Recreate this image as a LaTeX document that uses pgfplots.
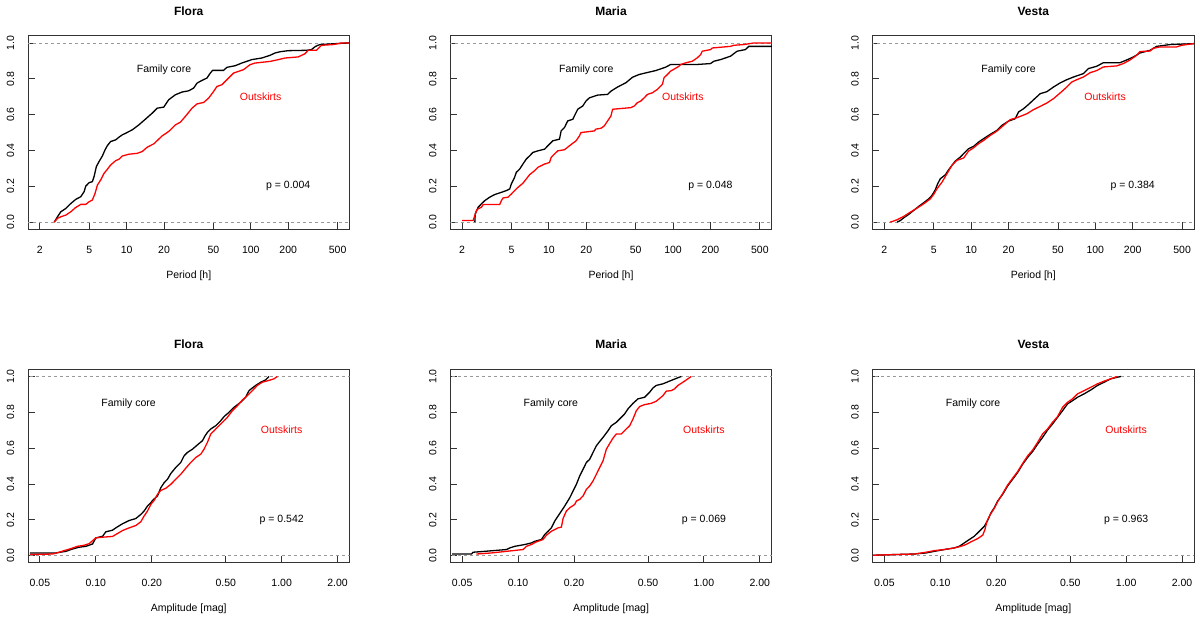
\documentclass[border=0pt]{standalone}
\usepackage{fontspec}
\setmainfont{Liberation Sans}
\usepackage{pgfplots}
\pgfplotsset{compat=1.18}

\newcommand{\fs}{\fontsize{10.5}{12.6}\selectfont}

\pgfplotsset{
  myaxis/.style={
    width=321.5pt, height=193.5pt, scale only axis,
    anchor=south west,
    ymin=-0.04, ymax=1.04,
    axis line style={black!80, line width=0.9pt},
    tick align=inside, major tick length=7pt,
    tick style={black!80, line width=0.9pt},
    minor tick length=0pt,
    xtick pos=bottom, ytick pos=left,
    ytick={0,0.2,0.4,0.6,0.8,1},
    yticklabels={0.0,0.2,0.4,0.6,0.8,1.0},
    yticklabel style={rotate=90, anchor=south, inner sep=13.5pt, font=\fs},
    xticklabel style={anchor=north, inner sep=16.5pt, font=\fs},
    title style={at={(axis description cs:0.5,1)}, anchor=south,
      yshift=14pt, inner sep=0pt, font=\bfseries\fontsize{12}{14}\selectfont},
    xlabel style={at={(axis description cs:0.5,0)}, anchor=north,
      yshift=-41pt, inner sep=0pt, font=\fs},
  },
  mytop/.style={xmin=1.6036, xmax=623.6,
    xtick={2,5,10,20,50,100,200,500},
    xticklabels={2,5,10,20,50,100,200,500},
    xlabel={Period [h]}},
  mybot/.style={xmin=0.04314, xmax=2.318,
    xtick={0.05,0.1,0.2,0.5,1,2},
    xticklabels={0.05,0.10,0.20,0.50,1.00,2.00},
    xlabel={Amplitude [mag]}},
  corel/.style={black, line width=1.3pt, no marks},
  outl/.style={red, line width=1.3pt, no marks},
  refl/.style={black!40, line width=0.6pt, dash pattern=on 3pt off 3pt, no marks},
}

\begin{document}
\begin{tikzpicture}
\useasboundingbox (0,0) rectangle (1200pt,618pt);

% ---------- Flora, period
\begin{semilogxaxis}[myaxis, mytop, at={(28pt,388.7pt)}, title={Flora}]
\addplot[refl] coordinates {(1,0) (1000,0)};
\addplot[refl] coordinates {(1,1) (1000,1)};
\addplot[corel] coordinates {(2.61,0) (2.77,0.030) (2.95,0.058) (3.23,0.076) (3.55,0.104) (3.89,0.127) (4.27,0.142) (4.54,0.170) (4.68,0.201) (4.98,0.220) (5.29,0.226) (5.46,0.254) (5.70,0.310) (5.99,0.338) (6.37,0.369) (6.69,0.403) (6.99,0.427) (7.43,0.450) (8.15,0.459) (8.66,0.474) (9.21,0.487) (9.80,0.496) (11.08,0.515) (12.54,0.543) (14.18,0.575) (16.04,0.608) (17.60,0.636) (19.90,0.642) (21.8,0.683) (24.7,0.711) (27.9,0.726) (31.6,0.733) (34.6,0.748) (36.9,0.776) (40.4,0.791) (44.3,0.804) (47.2,0.832) (49.2,0.847) (60.3,0.847) (64.2,0.864) (74.8,0.873) (84.6,0.888) (101.8,0.907) (122.5,0.916) (142.9,0.931) (156.7,0.944) (171.8,0.951) (200.5,0.957) (281,0.959) (308,0.963) (332,0.981) (360,0.991) (475,0.996) (608,1.0) (700,1.0)};
\addplot[outl] coordinates {(2.61,0) (2.77,0.021) (2.95,0.030) (3.23,0.039) (3.55,0.058) (3.89,0.082) (4.27,0.099) (4.68,0.099) (4.98,0.114) (5.29,0.123) (5.56,0.160) (5.81,0.207) (6.17,0.235) (6.57,0.272) (6.99,0.295) (7.43,0.319) (8.15,0.343) (8.66,0.351) (9.21,0.369) (10.42,0.379) (12.16,0.384) (13.34,0.394) (14.63,0.418) (16.54,0.437) (19.30,0.481) (21.8,0.506) (24.7,0.543) (27.1,0.558) (29.7,0.590) (33.6,0.636) (36.9,0.660) (41.7,0.668) (45.7,0.692) (50.1,0.729) (53.3,0.757) (58.5,0.767) (64.2,0.795) (72.6,0.832) (87.3,0.851) (98.7,0.879) (108.3,0.888) (122.5,0.892) (142.9,0.897) (166.7,0.907) (188.5,0.916) (241,0.922) (273,0.940) (290,0.959) (338,0.959) (371,0.987) (460,0.991) (540,1.0) (700,1.0)};
\node[font=\fs] at (axis cs:20,0.85) {Family core};
\node[font=\fs, text=red] at (axis cs:120,0.7) {Outskirts};
\node[font=\fs] at (axis cs:200,0.2) {p = 0.004};
\end{semilogxaxis}

% ---------- Maria, period
\begin{semilogxaxis}[myaxis, mytop, at={(450.25pt,388.7pt)}, title={Maria}]
\addplot[refl] coordinates {(1,0) (1000,0)};
\addplot[refl] coordinates {(1,1) (1000,1)};
\addplot[corel] coordinates {(2.53,0) (2.55,0.046) (2.69,0.083) (2.86,0.102) (3.04,0.120) (3.33,0.139) (3.66,0.154) (4.01,0.163) (4.54,0.176) (4.83,0.185) (4.98,0.213) (5.29,0.250) (5.46,0.278) (5.81,0.296) (6.17,0.324) (6.57,0.352) (6.99,0.370) (7.43,0.389) (8.15,0.398) (9.21,0.407) (9.80,0.426) (10.75,0.454) (12.16,0.463) (12.54,0.509) (13.34,0.528) (14.18,0.565) (15.56,0.574) (17.06,0.630) (18.71,0.648) (19.90,0.676) (21.2,0.694) (24.7,0.709) (29.7,0.713) (31.6,0.731) (35.7,0.754) (41.7,0.778) (47.2,0.809) (53.3,0.824) (60.3,0.833) (72.6,0.846) (87.3,0.865) (95.7,0.880) (156.7,0.880) (200.5,0.885) (213,0.898) (241,0.907) (290,0.926) (328,0.954) (383,0.963) (407,0.981) (700,0.981)};
\addplot[outl] coordinates {(2.00,0.009) (2.45,0.009) (2.53,0.037) (2.61,0.065) (2.69,0.074) (2.86,0.083) (2.95,0.098) (4.01,0.098) (4.14,0.120) (4.27,0.135) (4.68,0.139) (4.98,0.157) (5.29,0.176) (5.63,0.194) (6.17,0.217) (6.57,0.241) (6.99,0.265) (7.66,0.287) (8.15,0.306) (9.21,0.324) (10.11,0.333) (10.42,0.361) (11.08,0.380) (11.79,0.398) (13.34,0.404) (14.63,0.426) (16.54,0.454) (17.60,0.481) (18.14,0.500) (23.2,0.509) (23.9,0.519) (26.3,0.524) (27.9,0.537) (29.7,0.565) (31.6,0.593) (32.6,0.630) (45.7,0.639) (48.6,0.648) (51.7,0.667) (55.0,0.676) (58.5,0.694) (62.2,0.713) (68.2,0.722) (74.8,0.741) (82.1,0.769) (84.6,0.806) (90.0,0.824) (95.7,0.843) (111.7,0.870) (115.2,0.880) (126.3,0.889) (142.9,0.898) (156.7,0.917) (166.7,0.935) (171.9,0.954) (200.5,0.963) (206.8,0.972) (290,0.981) (308,0.987) (371,0.991) (395,0.994) (447,1.0) (700,1.0)};
\node[font=\fs] at (axis cs:20,0.85) {Family core};
\node[font=\fs, text=red] at (axis cs:120,0.7) {Outskirts};
\node[font=\fs] at (axis cs:200,0.2) {p = 0.048};
\end{semilogxaxis}

% ---------- Vesta, period
\begin{semilogxaxis}[myaxis, mytop, at={(872.5pt,388.7pt)}, title={Vesta}]
\addplot[refl] coordinates {(1,0) (1000,0)};
\addplot[refl] coordinates {(1,1) (1000,1)};
\addplot[corel] coordinates {(2.53,0) (2.69,0.009) (2.86,0.024) (3.14,0.043) (3.44,0.065) (3.78,0.088) (4.14,0.108) (4.55,0.130) (4.83,0.149) (5.14,0.181) (5.37,0.214) (5.64,0.242) (6.19,0.264) (6.58,0.292) (7.00,0.317) (7.45,0.341) (8.17,0.363) (8.69,0.382) (9.54,0.410) (10.46,0.423) (11.48,0.447) (12.59,0.466) (14.24,0.490) (16.11,0.512) (17.68,0.540) (20.0,0.564) (22.6,0.577) (24.1,0.615) (26.4,0.633) (29.0,0.657) (31.8,0.683) (36.0,0.717) (40.7,0.728) (46.0,0.754) (52.1,0.777) (58.9,0.795) (66.7,0.810) (80.2,0.829) (88.0,0.857) (102.7,0.870) (116.1,0.890) (158.2,0.890) (178.9,0.905) (202.5,0.922) (229,0.944) (276,0.959) (312,0.981) (399,0.991) (615,0.996) (700,1.0)};
\addplot[outl] coordinates {(2.23,0) (2.53,0.013) (2.86,0.032) (3.24,0.056) (3.66,0.078) (4.14,0.102) (4.69,0.130) (4.99,0.155) (5.30,0.186) (5.82,0.223) (6.38,0.270) (7.00,0.317) (7.68,0.345) (8.69,0.358) (9.54,0.397) (10.46,0.415) (11.48,0.438) (12.59,0.456) (14.24,0.484) (16.11,0.508) (18.23,0.540) (20.6,0.572) (23.3,0.583) (24.8,0.590) (28.1,0.605) (31.8,0.628) (36.0,0.646) (40.7,0.665) (46.0,0.689) (52.1,0.721) (58.9,0.754) (64.6,0.782) (70.9,0.795) (80.2,0.810) (90.8,0.834) (102.7,0.846) (116.1,0.866) (148.7,0.872) (168.3,0.885) (190.4,0.905) (215,0.931) (229,0.952) (276,0.955) (293,0.970) (332,0.978) (452,0.978) (496,0.987) (615,0.996) (700,1.0)};
\node[font=\fs] at (axis cs:20,0.85) {Family core};
\node[font=\fs, text=red] at (axis cs:120,0.7) {Outskirts};
\node[font=\fs] at (axis cs:200,0.2) {p = 0.384};
\end{semilogxaxis}

% ---------- Flora, amplitude
\begin{semilogxaxis}[myaxis, mybot, at={(28pt,55.2pt)}, title={Flora}]
\addplot[refl] coordinates {(0.01,0) (5,0)};
\addplot[refl] coordinates {(0.01,1) (5,1)};
\addplot[corel] coordinates {(0.0442,0.015) (0.0610,0.015) (0.0690,0.024) (0.0749,0.037) (0.0813,0.047) (0.0884,0.052) (0.0960,0.065) (0.100,0.099) (0.1087,0.108) (0.1132,0.133) (0.1230,0.142) (0.1281,0.155) (0.1392,0.178) (0.1511,0.196) (0.1641,0.207) (0.1746,0.230) (0.1819,0.249) (0.1897,0.277) (0.1977,0.295) (0.2018,0.308) (0.2146,0.333) (0.2237,0.379) (0.2331,0.407) (0.2429,0.426) (0.2531,0.458) (0.2692,0.492) (0.2865,0.520) (0.2985,0.557) (0.3111,0.576) (0.3310,0.594) (0.3595,0.626) (0.3746,0.641) (0.3873,0.669) (0.3986,0.688) (0.4154,0.707) (0.4418,0.725) (0.4699,0.753) (0.4898,0.776) (0.5209,0.800) (0.5544,0.828) (0.6020,0.856) (0.6404,0.884) (0.6676,0.921) (0.6955,0.936) (0.7250,0.950) (0.7714,0.968) (0.8206,0.981) (0.8551,1.0)};
\addplot[outl] coordinates {(0.0442,0.006) (0.0585,0.009) (0.0635,0.019) (0.0676,0.028) (0.0734,0.039) (0.0797,0.052) (0.0866,0.058) (0.0921,0.067) (0.100,0.099) (0.1087,0.103) (0.1230,0.107) (0.1281,0.118) (0.1392,0.140) (0.1511,0.155) (0.1641,0.168) (0.1746,0.189) (0.1819,0.221) (0.1897,0.249) (0.1977,0.286) (0.2060,0.308) (0.2146,0.342) (0.2237,0.364) (0.2379,0.376) (0.2531,0.398) (0.2692,0.426) (0.2865,0.454) (0.3047,0.488) (0.3242,0.520) (0.3450,0.548) (0.3669,0.566) (0.3823,0.594) (0.3986,0.632) (0.4154,0.679) (0.4329,0.697) (0.4510,0.716) (0.4798,0.744) (0.5105,0.772) (0.5431,0.809) (0.5777,0.836) (0.6146,0.869) (0.6539,0.893) (0.6955,0.921) (0.7400,0.950) (0.7870,0.968) (0.8551,0.978) (0.9099,0.987) (0.9482,1.0)};
\node[font=\fs] at (axis cs:0.15,0.85) {Family core};
\node[font=\fs, text=red] at (axis cs:1,0.7) {Outskirts};
\node[font=\fs] at (axis cs:1,0.2) {p = 0.542};
\end{semilogxaxis}

% ---------- Maria, amplitude
\begin{semilogxaxis}[myaxis, mybot, at={(450.25pt,55.2pt)}, title={Maria}]
\addplot[refl] coordinates {(0.01,0) (5,0)};
\addplot[refl] coordinates {(0.01,1) (5,1)};
\addplot[corel] coordinates {(0.0442,0.009) (0.0561,0.009) (0.0573,0.019) (0.0662,0.024) (0.0866,0.034) (0.0902,0.043) (0.0960,0.052) (0.1087,0.062) (0.1179,0.071) (0.1230,0.080) (0.1335,0.090) (0.1392,0.118) (0.1450,0.136) (0.1511,0.155) (0.1575,0.193) (0.1641,0.221) (0.1710,0.249) (0.1782,0.277) (0.1897,0.323) (0.1977,0.361) (0.2060,0.398) (0.2146,0.445) (0.2237,0.482) (0.2331,0.520) (0.2429,0.538) (0.2531,0.576) (0.2637,0.613) (0.2749,0.637) (0.2865,0.660) (0.3047,0.697) (0.3176,0.725) (0.3378,0.744) (0.3595,0.772) (0.3746,0.791) (0.3903,0.819) (0.4154,0.850) (0.4418,0.875) (0.4798,0.884) (0.5105,0.912) (0.5321,0.936) (0.5544,0.950) (0.6020,0.959) (0.6676,0.978) (0.7250,0.993) (0.7557,1.0)};
\addplot[outl] coordinates {(0.0597,0.009) (0.0719,0.015) (0.0866,0.024) (0.1064,0.034) (0.1109,0.052) (0.1179,0.062) (0.1255,0.077) (0.1363,0.090) (0.1420,0.114) (0.1511,0.136) (0.1641,0.155) (0.1710,0.159) (0.1746,0.207) (0.1819,0.249) (0.1897,0.267) (0.2018,0.286) (0.2060,0.305) (0.2146,0.314) (0.2237,0.333) (0.2331,0.370) (0.2429,0.389) (0.2531,0.417) (0.2637,0.454) (0.2749,0.492) (0.2865,0.529) (0.2985,0.594) (0.3111,0.626) (0.3242,0.656) (0.3378,0.679) (0.3595,0.679) (0.3823,0.707) (0.3986,0.725) (0.4154,0.763) (0.4329,0.809) (0.4510,0.832) (0.4798,0.843) (0.5209,0.850) (0.5544,0.862) (0.6020,0.893) (0.6273,0.918) (0.6676,0.921) (0.6955,0.931) (0.7250,0.950) (0.7714,0.968) (0.8206,0.987) (0.8551,1.0)};
\node[font=\fs] at (axis cs:0.15,0.85) {Family core};
\node[font=\fs, text=red] at (axis cs:1,0.7) {Outskirts};
\node[font=\fs] at (axis cs:1,0.2) {p = 0.069};
\end{semilogxaxis}

% ---------- Vesta, amplitude
\begin{semilogxaxis}[myaxis, mybot, at={(872.5pt,55.2pt)}, title={Vesta}]
\addplot[refl] coordinates {(0.01,0) (5,0)};
\addplot[refl] coordinates {(0.01,1) (5,1)};
\addplot[corel] coordinates {(0.0433,0.002) (0.0566,0.006) (0.0725,0.009) (0.0838,0.015) (0.0929,0.024) (0.1051,0.034) (0.1189,0.043) (0.1265,0.052) (0.1346,0.071) (0.1432,0.090) (0.1523,0.108) (0.1621,0.136) (0.1725,0.164) (0.1797,0.196) (0.1873,0.239) (0.1952,0.267) (0.2034,0.305) (0.2164,0.342) (0.2302,0.389) (0.2449,0.426) (0.2606,0.464) (0.2772,0.510) (0.2949,0.548) (0.3137,0.581) (0.3337,0.622) (0.3550,0.660) (0.3776,0.701) (0.4017,0.735) (0.4274,0.772) (0.4547,0.809) (0.4838,0.847) (0.5146,0.865) (0.5475,0.884) (0.5946,0.903) (0.6457,0.925) (0.7015,0.950) (0.7617,0.968) (0.8272,0.987) (0.9365,1.0)};
\addplot[outl] coordinates {(0.0433,0.002) (0.0566,0.006) (0.0725,0.009) (0.0838,0.019) (0.0929,0.028) (0.1051,0.034) (0.1189,0.043) (0.1292,0.052) (0.1374,0.062) (0.1462,0.077) (0.1588,0.095) (0.1690,0.114) (0.1739,0.146) (0.1782,0.193) (0.1857,0.230) (0.1952,0.264) (0.2034,0.301) (0.2164,0.346) (0.2302,0.394) (0.2449,0.432) (0.2606,0.469) (0.2772,0.514) (0.2949,0.557) (0.3137,0.589) (0.3337,0.632) (0.3550,0.679) (0.3776,0.707) (0.4017,0.744) (0.4274,0.776) (0.4547,0.828) (0.4838,0.856) (0.5146,0.875) (0.5475,0.903) (0.5946,0.921) (0.6457,0.940) (0.7015,0.959) (0.7617,0.974) (0.8272,0.987) (0.8987,1.0)};
\node[font=\fs] at (axis cs:0.15,0.85) {Family core};
\node[font=\fs, text=red] at (axis cs:1,0.7) {Outskirts};
\node[font=\fs] at (axis cs:1,0.2) {p = 0.963};
\end{semilogxaxis}
\end{tikzpicture}
\end{document}
